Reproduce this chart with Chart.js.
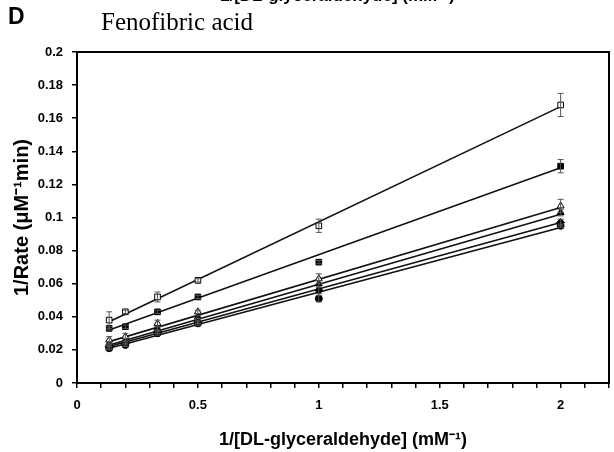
<!DOCTYPE html>
<html>
<head>
<meta charset="utf-8">
<script src="https://cdn.jsdelivr.net/npm/chart.js@4"></script>
<style>
  html, body { margin: 0; padding: 0; background: #fff; }
  #wrap { width: 614px; height: 452px; position: relative; }
</style>
</head>
<body>
<div id="wrap"><canvas id="grafico"></canvas></div>
<script>
// 1/[DL-glyceraldehyde] (mM-1)
var concInv = [0.133, 0.2, 0.333, 0.5, 1, 2]

// 1/Rate values per series
var serieAberto = [0.038, 0.043, 0.052, 0.062, 0.095, 0.168]
var serieQuadrado = [0.033, 0.034, 0.043, 0.052, 0.073, 0.131]
var serieTriAberto = [0.026, 0.028, 0.036, 0.043, 0.063, 0.107]
var serieTriangulo = [0.024, 0.026, 0.033, 0.040, 0.060, 0.103]
var serieQuadPeq = [0.022, 0.024, 0.031, 0.037, 0.056, 0.097]
var serieCirculo = [0.021, 0.023, 0.030, 0.036, 0.051, 0.095]

// error bars (+/-)
var erroAberto = [0.005, 0.001, 0.003, 0.001, 0.004, 0.007]
var erroQuadrado = [0.001, 0.001, 0.001, 0.001, 0.001, 0.004]
var erroTriAberto = [0.002, 0.002, 0.002, 0.001, 0.003, 0.004]
var erroTriangulo = [0.001, 0.001, 0.001, 0.001, 0.002, 0.002]
var erroQuadPeq = [0.001, 0.001, 0.001, 0.001, 0.002, 0.002]
var erroCirculo = [0.001, 0.001, 0.001, 0.001, 0.002, 0.001]

// fitted lines: value at first and last x
var ajusteX = [0.133, 2]
var ajusteAberto = [0.037, 0.167]
var ajusteQuadrado = [0.032, 0.130]
var ajusteTriAberto = [0.025, 0.106]
var ajusteTriangulo = [0.023, 0.102]
var ajusteQuadPeq = [0.022, 0.097]
var ajusteCirculo = [0.021, 0.094]

var yTicks = [0, 0.02, 0.04, 0.06, 0.08, 0.1, 0.12, 0.14, 0.16, 0.18, 0.2]
var xLabels = [0, 0.5, 1, 1.5, 2]

function pontos(xs, ys) {
  var out = []
  for (var i = 0; i < xs.length; i++) out.push({x: xs[i], y: ys[i]})
  return out
}

function serie(ys, erros, estilo, preenche) {
  return {
    type: 'scatter',
    data: pontos(concInv, ys),
    erros: erros,
    pointStyle: estilo,
    pointRadius: estilo == 'circle' ? 3.5 : 4,
    backgroundColor: preenche ? '#000' : '#fff',
    borderColor: '#000',
    borderWidth: 1,
    order: 0
  }
}

function ajuste(ys) {
  return {
    type: 'line',
    data: pontos(ajusteX, ys),
    showLine: true,
    borderColor: '#111',
    borderWidth: 1.6,
    pointRadius: 0,
    fill: false,
    order: 1
  }
}

var barrasErro = {
  id: 'barrasErro',
  afterDatasetsDraw(chart) {
    var ctx = chart.ctx
    var xs = chart.scales.x, ys = chart.scales.y
    ctx.save()
    ctx.strokeStyle = '#555'
    ctx.lineWidth = 1
    chart.data.datasets.forEach(function(ds) {
      if (!ds.erros) return
      ds.data.forEach(function(p, i) {
        var e = ds.erros[i]
        var px = xs.getPixelForValue(p.x)
        var y1 = ys.getPixelForValue(p.y + e)
        var y2 = ys.getPixelForValue(p.y - e)
        ctx.beginPath()
        ctx.moveTo(px, y1); ctx.lineTo(px, y2)
        ctx.moveTo(px - 3, y1); ctx.lineTo(px + 3, y1)
        ctx.moveTo(px - 3, y2); ctx.lineTo(px + 3, y2)
        ctx.stroke()
      })
    })
    ctx.restore()
  }
}

var moldura = {
  id: 'moldura',
  afterDraw(chart) {
    var a = chart.chartArea
    var ctx = chart.ctx
    ctx.save()
    ctx.strokeStyle = '#000'
    ctx.lineWidth = 2
    ctx.strokeRect(a.left, a.top, a.right - a.left, a.bottom - a.top)
    // panel letter and title
    ctx.fillStyle = '#000'
    ctx.textBaseline = 'alphabetic'
    ctx.font = 'bold 23px "Liberation Sans", Arial, sans-serif'
    ctx.fillText('D', 8, 24)
    ctx.font = '25px "Liberation Serif", "Times New Roman", serif'
    ctx.fillText('Fenofibric acid', 101, 30)
    // cut-off caption from the panel above
    ctx.font = 'bold 17px "Liberation Sans", Arial, sans-serif'
    ctx.fillText('1/[DL-glyceraldehyde] (mM\u207B\u00B9)', 220, 1)
    ctx.restore()
  }
}

var fonteTick = { family: '"Liberation Sans", Arial, sans-serif', size: 13, weight: 'bold' }
var fonteTitulo = { family: '"Liberation Sans", Arial, sans-serif', size: 18, weight: 'bold' }
var fonteTituloY = { family: '"Liberation Sans", Arial, sans-serif', size: 20, weight: 'bold' }

new Chart(document.getElementById('grafico'), {
  type: 'scatter',
  data: {
    datasets: [
      ajuste(ajusteAberto),
      ajuste(ajusteQuadrado),
      ajuste(ajusteTriAberto),
      ajuste(ajusteTriangulo),
      ajuste(ajusteQuadPeq),
      ajuste(ajusteCirculo),
      serie(serieAberto, erroAberto, 'rect', false),
      serie(serieQuadrado, erroQuadrado, 'rect', true),
      serie(serieTriAberto, erroTriAberto, 'triangle', false),
      serie(serieTriangulo, erroTriangulo, 'triangle', true),
      serie(serieQuadPeq, erroQuadPeq, 'rectRot', true),
      serie(serieCirculo, erroCirculo, 'circle', true)
    ]
  },
  plugins: [barrasErro, moldura],
  options: {
    responsive: true,
    maintainAspectRatio: false,
    animation: false,
    layout: { padding: { top: 52, right: 0, left: 0, bottom: 0 } },
    plugins: { legend: { display: false }, tooltip: { enabled: false } },
    scales: {
      x: {
        type: 'linear',
        min: 0,
        max: 2.2,
        afterFit: function(s) { s.height = 69; s.paddingRight = 2; s.paddingLeft = 0 },
        afterBuildTicks: function(s) {
          var t = []
          for (var i = 0; i <= 22; i++) t.push({ value: i / 10 })
          s.ticks = t
        },
        ticks: {
          font: fonteTick,
          color: '#000',
          padding: 10,
          maxRotation: 0,
          autoSkip: false,
          callback: function(v) {
            var r = Math.round(v * 10) / 10
            return xLabels.indexOf(r) >= 0 ? String(r) : ''
          }
        },
        grid: { drawOnChartArea: false, drawTicks: true, tickLength: 5, color: '#000', lineWidth: 1.5 },
        border: { display: true, color: '#000', width: 2 },
        title: { display: true, text: '1/[DL-glyceraldehyde] (mM\u207B\u00B9)', font: fonteTitulo, color: '#000', padding: { top: 4, bottom: 1 } }
      },
      y: {
        min: 0,
        max: 0.2,
        afterFit: function(s) { s.width = 77 },
        afterBuildTicks: function(s) {
          s.ticks = yTicks.map(function(v) { return { value: v } })
        },
        ticks: {
          font: fonteTick,
          color: '#000',
          padding: 9,
          callback: function(v) { return String(+v.toFixed(2)) }
        },
        grid: { drawOnChartArea: false, drawTicks: true, tickLength: 5, color: '#000', lineWidth: 1.5 },
        border: { display: true, color: '#000', width: 2 },
        title: { display: true, text: '1/Rate (\u03BCM\u207B\u00B9min)', font: fonteTituloY, color: '#000', padding: { top: 10, bottom: 0 } }
      }
    }
  }
});
</script>
</body>
</html>
